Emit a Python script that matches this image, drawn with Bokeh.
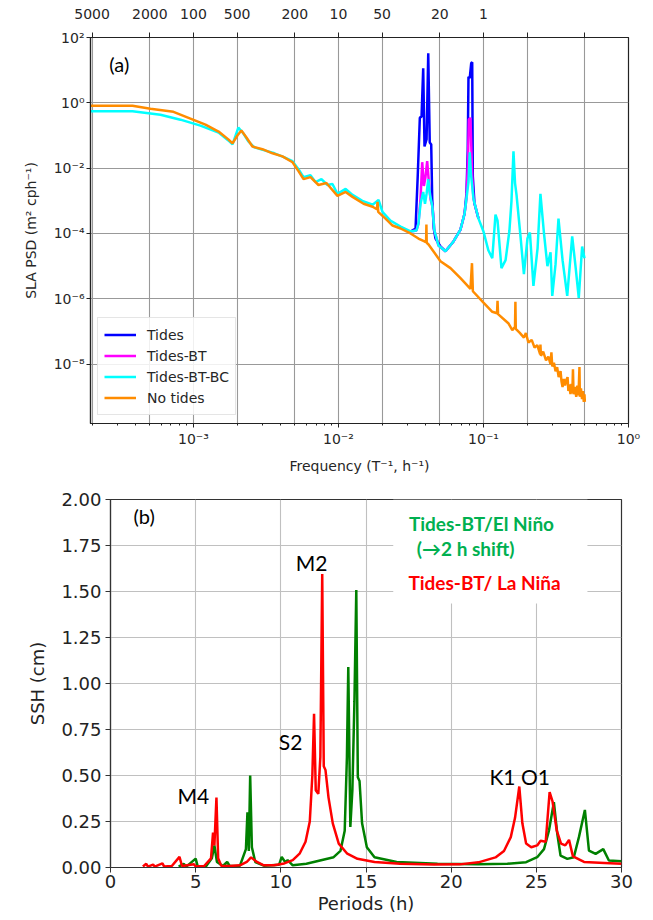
from bokeh.plotting import figure
from bokeh.models import LogAxis, FixedTicker, Label, BoxAnnotation, Range1d, PrintfTickFormatter
from bokeh.embed import file_html
from bokeh.resources import INLINE

# ---------------- Panel (a) data: frequency (cph) and SLA PSD ----------------
freq_notides = [1.95e-4, 3.80e-4, 5.05e-4, 7.28e-4, 9.53e-4, 1.21e-3, 1.49e-3, 1.74e-3, 1.86e-3,
                2.01e-3, 2.14e-3, 2.32e-3, 2.55e-3, 2.99e-3, 3.51e-3, 4.11e-3, 4.82e-3, 5.30e-3,
                5.74e-3, 6.41e-3, 7.28e-3, 8.26e-3, 9.84e-3, 1.12e-2, 1.25e-2, 1.49e-2, 1.72e-2,
                1.84e-2, 1.86e-2, 1.88e-2, 2.11e-2, 2.36e-2, 2.68e-2, 3.14e-2, 3.56e-2, 3.92e-2,
                4.02e-2, 4.04e-2, 4.06e-2, 4.18e-2, 5.05e-2, 5.92e-2, 6.94e-2, 8.13e-2, 8.33e-2,
                8.45e-2, 0.100, 0.115, 0.124, 0.125, 0.126, 0.149, 0.158, 0.165, 0.166, 0.167,
                0.178, 0.190, 0.196, 0.204, 0.215, 0.225, 0.235, 0.246, 0.247, 0.249, 0.258,
                0.270, 0.280, 0.290, 0.294, 0.298, 0.306, 0.314, 0.322, 0.330, 0.340, 0.345,
                0.351, 0.358, 0.365, 0.372, 0.380, 0.385, 0.390, 0.398, 0.405, 0.410, 0.414,
                0.418, 0.428, 0.436, 0.444, 0.452, 0.459, 0.462, 0.470, 0.478, 0.485, 0.492,
                0.497, 0.500]
psd_notides = [0.81, 0.81, 0.66, 0.53, 0.33, 0.215, 0.132, 0.076, 0.057,
               0.10, 0.142, 0.087, 0.046, 0.038, 0.0285, 0.023, 0.0152, 8.1e-3,
               4.6e-3, 5.3e-3, 3.05e-3, 3.5e-3, 1.42e-3, 1.87e-3, 1.32e-3, 8.1e-4, 6.6e-4,
               5.5e-4, 9.3e-4, 4.6e-4, 2.85e-4, 1.75e-4, 1.42e-4, 1.0e-4, 7.0e-5, 5.7e-5,
               5.5e-5, 1.87e-4, 5.2e-5, 4.6e-5, 1.42e-5, 8.7e-6, 4.3e-6, 2.0e-6, 1.23e-5,
               1.7e-6, 7.6e-7, 4.0e-7, 3.6e-7, 8.7e-7, 3.4e-7, 1.75e-7, 1.1e-7, 1.4e-7, 8.1e-7, 1.2e-7,
               9.0e-8, 6.5e-8, 9.0e-8, 4.6e-8, 5.5e-8, 3.2e-8, 3.8e-8, 2.0e-8, 4.0e-8, 1.8e-8, 2.4e-8,
               1.3e-8, 1.7e-8, 1.0e-8, 2.3e-8, 8.5e-9, 1.1e-8, 6.0e-9, 8.0e-9, 4.0e-9, 6.1e-9, 3.0e-9,
               2.0e-9, 3.5e-9, 2.2e-9, 3.2e-9, 4.0e-9, 1.5e-9, 2.4e-9, 1.2e-9, 2.5e-9, 1.3e-9, 7.0e-9,
               1.2e-9, 2.0e-9, 1.0e-9, 2.2e-9, 1.1e-9, 8.1e-9, 1.0e-9, 1.8e-9, 8.5e-10, 1.5e-9, 7.0e-10,
               1.2e-9, 7.0e-10]

freq_btbc = [1.95e-4, 3.80e-4, 5.92e-4, 8.13e-4, 1.117e-3, 1.49e-3, 1.74e-3, 1.86e-3, 2.04e-3,
             2.21e-3, 2.39e-3, 2.63e-3, 3.09e-3, 3.62e-3, 4.24e-3, 4.82e-3, 5.30e-3, 5.74e-3,
             6.41e-3, 6.94e-3, 7.63e-3, 8.40e-3, 9.09e-3, 9.84e-3, 1.12e-2, 1.25e-2, 1.46e-2,
             1.72e-2, 1.89e-2, 2.01e-2, 2.28e-2, 2.68e-2, 3.14e-2, 3.45e-2, 3.56e-2, 3.68e-2,
             3.84e-2, 3.95e-2, 4.05e-2, 4.16e-2, 4.28e-2, 4.43e-2, 4.59e-2, 4.89e-2, 5.47e-2,
             6.21e-2, 6.94e-2, 7.40e-2, 7.63e-2, 7.88e-2, 8.04e-2, 8.20e-2, 8.53e-2, 9.24e-2,
             0.100, 0.108, 0.115, 0.121, 0.125, 0.133, 0.142, 0.151, 0.156, 0.161, 0.165, 0.169,
             0.180, 0.190, 0.201, 0.209, 0.221, 0.236, 0.247, 0.261, 0.276, 0.290, 0.298,
             0.314, 0.329, 0.351, 0.378, 0.409, 0.431, 0.454, 0.479, 0.497]
psd_btbc = [0.55, 0.55, 0.433, 0.305, 0.201, 0.123, 0.0705, 0.0534, 0.175,
            0.115, 0.0658, 0.0433, 0.0351, 0.0285, 0.0215, 0.0163, 9.3e-3, 5.3e-3,
            6.1e-3, 3.76e-3, 4.6e-3, 3.05e-3, 3.27e-3, 1.63e-3, 2.31e-3, 1.52e-3, 1.0e-3,
            7.6e-4, 1.07e-3, 4.6e-4, 2.48e-4, 1.63e-4, 1.15e-4, 1.23e-4, 2.01e-4, 8.1e-4,
            1.87e-3, 8.1e-4, 1.63e-3, 4.6e-3, 1.52e-3, 7.0e-4, 1.23e-4, 4.3e-5, 2.85e-5,
            5.7e-5, 1.32e-4, 4.0e-4, 1.15e-3, 3.76e-3, 0.0305, 6.6e-3, 1.15e-3, 2.85e-4,
            1.15e-4, 3.05e-5, 1.75e-5, 3.76e-4, 2.48e-4, 8.7e-6, 1.52e-5, 1.23e-4, 1.0e-3, 0.0327, 3.5e-3, 1.52e-3,
            8.1e-5, 5.7e-6, 7.0e-5, 1.07e-4, 2.48e-6, 3.51e-5, 1.63e-3, 1.07e-4, 1.0e-5, 2.66e-5, 1.23e-6,
            1.15e-5, 2.85e-4, 1.52e-5, 1.23e-6, 8.1e-5, 1.0e-5, 1.07e-6, 4.0e-5, 1.75e-5]

freq_bt = [3.14e-2, 3.45e-2, 3.56e-2, 3.68e-2, 3.78e-2, 3.88e-2, 3.98e-2, 4.09e-2, 4.20e-2,
           4.31e-2, 4.45e-2, 4.59e-2, 4.89e-2, 5.47e-2, 6.21e-2, 6.94e-2, 7.40e-2, 7.63e-2,
           7.82e-2, 7.92e-2, 8.13e-2, 8.36e-2, 8.53e-2, 9.24e-2]
psd_bt = [1.15e-4, 1.23e-4, 2.01e-4, 1.15e-3, 0.0152, 2.85e-3, 5.3e-3, 0.0163, 3.76e-3,
          1.15e-3, 6.6e-4, 1.23e-4, 4.3e-5, 2.85e-5, 5.7e-5, 1.32e-4, 4.0e-4, 1.15e-3,
          0.0187, 0.305, 0.351, 5.7e-3, 1.15e-3, 2.85e-4]

freq_tides = [3.14e-2, 3.40e-2, 3.52e-2, 3.64e-2, 3.74e-2, 3.84e-2, 3.92e-2, 4.05e-2, 4.16e-2,
              4.26e-2, 4.36e-2, 4.43e-2, 4.54e-2, 4.67e-2, 5.05e-2, 5.47e-2, 6.21e-2, 6.94e-2,
              7.40e-2, 7.63e-2, 7.79e-2, 7.88e-2, 8.04e-2, 8.23e-2, 8.36e-2, 8.44e-2, 8.67e-2,
              9.24e-2]
psd_tides = [1.15e-4, 1.42e-4, 5.7e-3, 0.351, 0.376, 11.5, 0.0464, 0.0756, 32.7,
             0.0614, 0.0534, 1.15e-3, 1.42e-4, 7.0e-5, 4.0e-5, 2.85e-5, 5.7e-5, 1.32e-4,
             4.0e-4, 1.63e-3, 0.0376, 6.26, 5.72, 16.3, 17.5, 5.7e-3, 8.1e-4,
             2.85e-4]

# tick labels
x_major = [1e-3, 1e-2, 1e-1, 1.0]
x_major_labels = ["10⁻³", "10⁻²", "10⁻¹", "10⁰"]
y_major = [1e-8, 1e-6, 1e-4, 1e-2, 1.0, 100.0]
y_major_labels = ["10⁻⁸", "10⁻⁶", "10⁻⁴", "10⁻²", "10⁰", "10²"]
top_periods = [5000, 2000, 1000, 500, 200, 100, 50, 20, 10, 5, 2]
top_labels = ["5000", "2000", "100", "500", "200", "10", "50", "20", "1", "", ""]

# ---------------- Panel (b) data: period (h) and SSH amplitude (cm) ----------------
period_nina = [1.9, 2.1, 2.2, 2.5, 2.6, 3.05, 3.15, 3.6, 4.05, 4.2, 4.9, 5.0, 5.5, 5.9, 6.02,
               6.1, 6.22, 6.32, 6.5, 7.0, 7.6, 8.0, 8.25, 8.6, 9.0, 9.6, 10.2, 10.7, 11.1, 11.45,
               11.7, 11.85, 11.95, 12.05, 12.2, 12.32, 12.43, 12.52, 12.62, 12.8, 13.05, 13.4,
               13.9, 14.5, 15.5, 17.0, 19.0, 20.5, 21.6, 22.6, 23.1, 23.5, 23.75, 24.0, 24.18,
               24.4, 24.7, 25.05, 25.25, 25.55, 25.78, 25.95, 26.2, 26.45, 26.7, 26.92, 27.15,
               27.8, 29.0, 30.0]
ssh_nina = [0.005, 0.02, 0.005, 0.016, 0.005, 0.022, 0.005, 0.008, 0.058, 0.008, 0.018, 0.006,
            0.008, 0.05, 0.19, 0.12, 0.38, 0.05, 0.01, 0.008, 0.012, 0.03, 0.055, 0.03, 0.012,
            0.012, 0.022, 0.04, 0.075, 0.14, 0.25, 0.5, 0.835, 0.42, 0.40, 0.6, 1.595, 0.55,
            0.53, 0.38, 0.24, 0.13, 0.075, 0.047, 0.03, 0.02, 0.016, 0.017, 0.028, 0.055, 0.09,
            0.165, 0.27, 0.44, 0.24, 0.13, 0.11, 0.12, 0.145, 0.14, 0.41, 0.36, 0.2, 0.13, 0.12,
            0.15, 0.06, 0.03, 0.025, 0.02]

period_nino = [4.0, 4.3, 4.45, 5.0, 5.12, 5.6, 5.95, 6.1, 6.25, 6.6, 6.85, 7.0, 7.6, 7.95, 8.04,
               8.12, 8.2, 8.3, 8.5, 9.0, 9.9, 10.05, 10.25, 10.4, 10.7, 11.5, 12.3, 13.1, 13.5,
               13.75, 13.88, 13.96, 14.08, 14.2, 14.32, 14.43, 14.52, 14.62, 14.77, 15.05, 15.5,
               16.8, 19.2, 21.6, 23.3, 24.4, 25.05, 25.45, 25.74, 26.03, 26.23, 26.42, 26.82,
               27.2, 27.5, 27.85, 28.09, 28.48, 28.93, 29.26, 30.0]
ssh_nino = [0.005, 0.02, 0.005, 0.048, 0.006, 0.006, 0.05, 0.12, 0.03, 0.008, 0.03, 0.008, 0.01,
            0.1, 0.30, 0.09, 0.50, 0.11, 0.03, 0.01, 0.015, 0.058, 0.03, 0.04, 0.012, 0.02, 0.038,
            0.056, 0.09, 0.2, 0.6, 1.09, 0.22, 0.42, 0.9, 1.508, 0.49, 0.47, 0.24, 0.11, 0.056,
            0.03, 0.02, 0.018, 0.02, 0.029, 0.056, 0.1, 0.2, 0.355, 0.183, 0.065, 0.047, 0.056,
            0.165, 0.313, 0.092, 0.074, 0.1, 0.038, 0.034]

x_ticks_b = [0, 5, 10, 15, 20, 25, 30]
y_ticks_b = [0.0, 0.25, 0.5, 0.75, 1.0, 1.25, 1.5, 1.75, 2.0]

AX = "#222222"
TF = "DejaVu Sans"
AF = "Lato"

# ======================= Panel (a) =======================
p1 = figure(width=653, height=476, x_axis_type="log", y_axis_type="log",
            x_range=Range1d(1.95e-4, 1.0), y_range=Range1d(1.52e-10, 100.0),
            output_backend="svg", toolbar_location=None,
            min_border_left=90, min_border_right=25, min_border_top=37, min_border_bottom=49)
p1.background_fill_color = "white"
p1.border_fill_color = "white"
p1.outline_line_color = AX
p1.outline_line_width = 1.2

minor_x = [m * 10.0 ** k for k in (-4, -3, -2, -1) for m in range(2, 10)]
bx_ticker = FixedTicker(ticks=x_major, minor_ticks=minor_x)
xa = p1.xaxis[0]
xa.ticker = bx_ticker
xa.major_label_overrides = dict(zip(x_major, x_major_labels))
xa.axis_label = "Frequency (T⁻¹, h⁻¹)"

y_ticker = FixedTicker(ticks=y_major, minor_ticks=[])
ya = p1.yaxis[0]
ya.ticker = y_ticker
ya.major_label_overrides = dict(zip(y_major, y_major_labels))
ya.axis_label = "SLA PSD (m² cph⁻¹)"

top_ticks = [1.0 / t for t in top_periods]
top_ticker = FixedTicker(ticks=top_ticks, minor_ticks=[])
top_axis = LogAxis(ticker=top_ticker, major_label_overrides=dict(zip(top_ticks, top_labels)))
p1.add_layout(top_axis, "above")

for ax in (xa, ya, top_axis):
    ax.axis_line_color = AX
    ax.axis_line_width = 1.2
    ax.major_tick_line_color = AX
    ax.minor_tick_line_color = AX
    ax.major_tick_in = 0
    ax.minor_tick_in = 0
    ax.major_tick_out = 4
    ax.minor_tick_out = 2
    ax.major_label_text_font = TF
    ax.major_label_text_font_size = "14px"
    ax.major_label_text_color = "#262626"
    ax.axis_label_text_font = TF
    ax.axis_label_text_font_size = "14px"
    ax.axis_label_text_font_style = "normal"
    ax.axis_label_text_color = "#262626"
xa.major_label_standoff = 3
xa.axis_label_standoff = 8
ya.major_label_standoff = 2
ya.axis_label_standoff = 12
top_axis.major_tick_out = 5
top_axis.major_label_standoff = 14

p1.xgrid.ticker = top_ticker
p1.ygrid.ticker = y_ticker
for g in (p1.xgrid[0], p1.ygrid[0]):
    g.grid_line_color = "#999999"
    g.grid_line_width = 1.1

p1.line(freq_tides, psd_tides, line_color="#0000ff", line_width=2.5, legend_label="Tides")
p1.line(freq_bt, psd_bt, line_color="#ff00ff", line_width=2.5, legend_label="Tides-BT")
p1.line(freq_btbc, psd_btbc, line_color="#00ffff", line_width=2.5, legend_label="Tides-BT-BC")
p1.line(freq_notides, psd_notides, line_color="#ff8c00", line_width=2.5, legend_label="No tides")

lg = p1.legend[0]
lg.location = (7, 8)
lg.label_text_font = TF
lg.label_text_font_size = "14px"
lg.label_text_color = "#262626"
lg.glyph_width = 32
lg.glyph_height = 21
lg.label_height = 21
lg.spacing = 0
lg.padding = 6
lg.margin = 0
lg.label_standoff = 11
lg.border_line_color = "#cccccc"
lg.border_line_width = 1
lg.background_fill_alpha = 0.85

p1.add_layout(Label(x=2.63e-4, y=15.7, text="(a)", text_font=AF, text_font_size="20px",
                    text_baseline="middle", text_align="left", text_color="black"))

# ======================= Panel (b) =======================
p2 = figure(width=653, height=444, x_range=Range1d(0, 30), y_range=Range1d(0, 2),
            output_backend="svg", toolbar_location=None,
            min_border_left=110, min_border_right=32, min_border_top=23, min_border_bottom=53)
p2.background_fill_color = "white"
p2.border_fill_color = "white"
p2.outline_line_color = "#333333"
p2.outline_line_width = 1.2

xb = p2.xaxis[0]
yb = p2.yaxis[0]
xb.ticker = FixedTicker(ticks=x_ticks_b, minor_ticks=[])
yb.ticker = FixedTicker(ticks=y_ticks_b, minor_ticks=[])
yb.formatter = PrintfTickFormatter(format="%.2f")
xb.axis_label = "Periods (h)"
yb.axis_label = "SSH (cm)"
for ax in (xb, yb):
    ax.axis_line_color = "#333333"
    ax.axis_line_width = 1.2
    ax.major_tick_line_color = "#333333"
    ax.major_tick_in = 0
    ax.major_tick_out = 5
    ax.major_label_text_font = TF
    ax.major_label_text_font_size = "18px"
    ax.major_label_text_color = "#222222"
    ax.axis_label_text_font = TF
    ax.axis_label_text_font_size = "18px"
    ax.axis_label_text_font_style = "normal"
    ax.axis_label_text_color = "#222222"
xb.major_label_standoff = 2
xb.axis_label_standoff = 2
yb.major_label_standoff = 4
yb.axis_label_standoff = 10

for g in (p2.xgrid[0], p2.ygrid[0]):
    g.grid_line_color = "#c0c0c0"
    g.grid_line_width = 1.1
p2.xgrid.ticker = xb.ticker
p2.ygrid.ticker = yb.ticker

p2.line(period_nino, ssh_nino, line_color="#008000", line_width=2.5)
p2.line(period_nina, ssh_nina, line_color="#ff0000", line_width=2.5)

p2.add_layout(BoxAnnotation(left=16.6, right=28.0, bottom=1.435, top=2.0,
                            fill_color="white", fill_alpha=1.0, line_color=None))

def lab(x, y, t, size="21px", color="black", style="normal", align="center"):
    p2.add_layout(Label(x=x, y=y, text=t, text_font=AF, text_font_size=size,
                        text_color=color, text_font_style=style,
                        text_align=align, text_baseline="middle"))

lab(1.35, 1.908, "(b)", size="20px", align="left")
lab(11.8, 1.658, "M2")
lab(10.57, 0.685, "S2")
lab(4.87, 0.391, "M4")
lab(24.02, 0.495, "K1 O1")
lab(21.78, 1.87, "Tides-BT/El Niño", size="19px", color="#00b050", style="bold")
lab(20.85, 1.734, "(→2 h shift)", size="19px", color="#00b050", style="bold")
lab(21.96, 1.549, "Tides-BT/ La Niña", size="19px", color="#ff0000", style="bold")

open("out.html", "w").write(file_html([p1, p2], INLINE))
